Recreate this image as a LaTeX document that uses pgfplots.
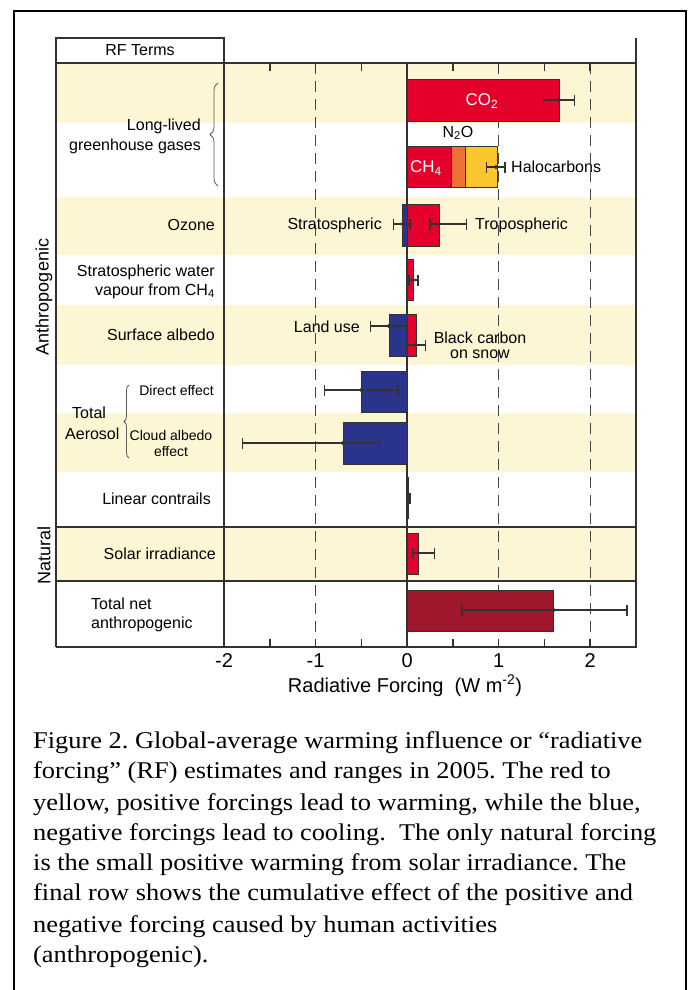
\documentclass[border=0pt]{standalone}
\usepackage{pgfplots}
\pgfplotsset{compat=1.18}
\usepackage{fontspec}
\setmainfont{Liberation Sans}
\newfontfamily\capfont[FakeStretch=1.1]{Liberation Serif}
\usetikzlibrary{decorations.pathreplacing}
\definecolor{cream}{RGB}{253,246,212}
\definecolor{co2red}{RGB}{228,0,43}
\definecolor{n2o}{RGB}{238,112,54}
\definecolor{halo}{RGB}{251,198,45}
\definecolor{cblue}{RGB}{43,52,140}
\definecolor{totred}{RGB}{160,24,46}
\definecolor{ink}{RGB}{50,50,50}
\begin{document}
\begin{tikzpicture}
\begin{axis}[
  at={(224pt,-647pt)}, anchor=south west,
  width=412pt, height=584pt, scale only axis,
  xmin=-2, xmax=2.5, ymin=63, ymax=647, y dir=reverse,
  clip=false, axis on top,
  axis line style={line width=1.8pt, ink},
  xtick={-2,-1,0,1,2}, xticklabels={-2,-1,0,1,2},
  minor xtick={-1.5,-0.5,0.5,1.5},
  ytick=\empty,
  tick align=inside,
  major tick length=8pt, minor tick length=8pt,
  every tick/.style={line width=1.6pt, ink},
  xticklabel style={font=\fontsize{20}{22}\selectfont, yshift=-3pt},
  xtick pos=both,
]
% background bands
\addplot[fill=cream, draw=none] coordinates {(-3.835,63) (2.5,63) (2.5,123) (-3.835,123)} -- cycle;
\addplot[fill=cream, draw=none] coordinates {(-3.835,197) (2.5,197) (2.5,255) (-3.835,255)} -- cycle;
\addplot[fill=cream, draw=none] coordinates {(-3.835,305) (2.5,305) (2.5,365) (-3.835,365)} -- cycle;
\addplot[fill=cream, draw=none] coordinates {(-3.835,413) (2.5,413) (2.5,472) (-3.835,472)} -- cycle;
\addplot[fill=cream, draw=none] coordinates {(-3.835,527) (2.5,527) (2.5,581) (-3.835,581)} -- cycle;
% grid lines
\addplot[ink!90, line width=1.1pt, dash pattern=on 11pt off 7pt] coordinates {(-1,63) (-1,647)};
\addplot[ink!90, line width=1.1pt, dash pattern=on 11pt off 7pt] coordinates {(1,63) (1,647)};
\addplot[ink!90, line width=1.1pt, dash pattern=on 11pt off 7pt] coordinates {(2,63) (2,647)};
\addplot[ink, line width=1.3pt] coordinates {(0,63) (0,647)};
% bars
\addplot[xbar, bar shift=0pt, bar width=42, fill=co2red, draw=ink, line width=0.6pt] coordinates {(1.66,100)};
\addplot[xbar, bar shift=0pt, bar width=41, fill=halo, draw=ink, line width=0.6pt] coordinates {(0.98,166.5)};
\addplot[xbar, bar shift=0pt, bar width=41, fill=n2o, draw=ink, line width=0.6pt] coordinates {(0.64,166.5)};
\addplot[xbar, bar shift=0pt, bar width=41, fill=co2red, draw=ink, line width=0.6pt] coordinates {(0.48,166.5)};
\addplot[xbar, bar shift=0pt, bar width=42, fill=cblue, draw=ink, line width=0.6pt] coordinates {(-0.05,225)};
\addplot[xbar, bar shift=0pt, bar width=42, fill=co2red, draw=ink, line width=0.6pt] coordinates {(0.35,225)};
\addplot[xbar, bar shift=0pt, bar width=41, fill=co2red, draw=ink, line width=0.6pt] coordinates {(0.07,279.5)};
\addplot[xbar, bar shift=0pt, bar width=42, fill=cblue, draw=ink, line width=0.6pt] coordinates {(-0.2,335)};
\addplot[xbar, bar shift=0pt, bar width=42, fill=co2red, draw=ink, line width=0.6pt] coordinates {(0.1,335)};
\addplot[xbar, bar shift=0pt, bar width=41, fill=cblue, draw=ink, line width=0.6pt] coordinates {(-0.5,391.5)};
\addplot[xbar, bar shift=0pt, bar width=42, fill=cblue, draw=ink, line width=0.6pt] coordinates {(-0.7,443)};
\addplot[xbar, bar shift=0pt, bar width=41, fill=co2red, draw=ink, line width=0.6pt] coordinates {(0.01,498)};
\addplot[xbar, bar shift=0pt, bar width=41, fill=co2red, draw=ink, line width=0.6pt] coordinates {(0.12,553.5)};
\addplot[xbar, bar shift=0pt, bar width=41, fill=totred, draw=ink, line width=0.6pt] coordinates {(1.6,610.5)};
% error bars
\addplot[only marks, mark=*, mark size=1.9pt, ink,
  error bars/.cd, x dir=both, x explicit,
  error mark=|,
  error bar style={line width=1.4pt, ink},
  error mark options={mark size=5.5pt, line width=1.4pt, ink}]
coordinates {
  (1.66,100) += (0.17,0) -= (0.17,0)
  (0.97,167) += (0.1,0) -= (0.1,0)
  (-0.05,224) += (0.08,0) -= (0.1,0)
  (0.35,224) += (0.3,0) -= (0.1,0)
  (0.07,280) += (0.05,0) -= (0.05,0)
  (-0.2,326) += (0.2,0) -= (0.2,0)
  (0.1,345) += (0.1,0) -= (0.1,0)
  (-0.5,390) += (0.4,0) -= (0.4,0)
  (-0.7,443) += (0.4,0) -= (1.1,0)
  (0.01,498) += (0.02,0) -= (0.007,0)
  (0.12,553) += (0.18,0) -= (0.06,0)
  (1.6,610) += (0.8,0) -= (1.0,0)
};
\end{axis}
\begin{scope}[x=1pt, y=-1pt]
\path[use as bounding box] (0,0) rectangle (688,990);
% frame
\draw[line width=2.6pt, black] (14,1000) -- (14,11) -- (686,11) -- (686,1000);
% table lines
\draw[line width=1.8pt, ink] (56,647) -- (56,38) -- (224,38) -- (224,647);
\draw[line width=1.8pt, ink] (56,63) -- (224,63);
\draw[line width=1.8pt, ink] (56,647) -- (224,647);
\draw[line width=1.8pt, ink] (636,38) -- (636,63);
\draw[line width=1.8pt, ink] (56,527) -- (636,527);
\draw[line width=2.4pt, ink] (56,581) -- (636,581);
% braces
\draw[ink!80, line width=0.8pt, decorate, decoration={brace, amplitude=8pt}] (218,186) -- (218,83);
\draw[ink!80, line width=0.8pt, decorate, decoration={brace, amplitude=5pt}] (129,458) -- (129,385);
% left text
\begin{scope}[every node/.style={font=\fontsize{16}{18}\selectfont, inner sep=0pt}]
\node[anchor=base] at (140,56) {RF Terms};
\node[anchor=base east] at (201,130) {Long-lived};
\node[anchor=base east] at (201,150) {greenhouse gases};
\node[anchor=base east] at (215,230) {Ozone};
\node[anchor=base east] at (215,276) {Stratospheric water};
\node[anchor=base east] at (215,295) {vapour from CH\textsubscript{4}};
\node[anchor=base east] at (215,340) {Surface albedo};
\node[anchor=base east, font=\fontsize{14}{16}\selectfont] at (214,395) {Direct effect};
\node[anchor=base west] at (72,418) {Total};
\node[anchor=base west] at (65,439) {Aerosol};
\node[anchor=base, font=\fontsize{14}{16}\selectfont] at (171,440) {Cloud albedo};
\node[anchor=base, font=\fontsize{14}{16}\selectfont] at (171,456) {effect};
\node[anchor=base east] at (211,504) {Linear contrails};
\node[anchor=base east] at (216,559) {Solar irradiance};
\node[anchor=base west] at (91,609) {Total net};
\node[anchor=base west] at (91,628) {anthropogenic};
\node[rotate=90, font=\fontsize{18}{20}\selectfont] at (44,297) {Anthropogenic};
\node[rotate=90, font=\fontsize{18}{20}\selectfont] at (44,555) {Natural};
% annotations
\node[text=white, font=\fontsize{17}{19}\selectfont] at (482,101) {CO\textsubscript{2}};
\node at (458,133) {N\textsubscript{2}O};
\node[text=white, font=\fontsize{17}{19}\selectfont] at (426,168) {CH\textsubscript{4}};
\node[anchor=west] at (511,167) {Halocarbons};
\node[anchor=east] at (382,225) {Stratospheric};
\node[anchor=west] at (475,225) {Tropospheric};
\node[anchor=east] at (360,327) {Land use};
\node at (480,338) {Black carbon};
\node at (480,354) {on snow};
\node[anchor=base, font=\fontsize{20}{22}\selectfont] at (405,692) {Radiative Forcing\ \ (W m\textsuperscript{-2})};
\end{scope}
% caption
\begin{scope}[every node/.style={font=\capfont\fontsize{24}{28}\selectfont\frenchspacing, anchor=base west, inner sep=0pt}]
\node at (33,748) {Figure 2. Global-average warming influence or “radiative};
\node at (33,778) {forcing” (RF) estimates and ranges in 2005. The red to};
\node at (33,810) {yellow, positive forcings lead to warming, while the blue,};
\node at (33,840) {negative forcings lead to cooling.\ \ The only natural forcing};
\node at (33,870) {is the small positive warming from solar irradiance. The};
\node at (33,900) {final row shows the cumulative effect of the positive and};
\node at (33,932) {negative forcing caused by human activities};
\node at (33,962) {(anthropogenic).};
\end{scope}
\end{scope}
\end{tikzpicture}
\end{document}
